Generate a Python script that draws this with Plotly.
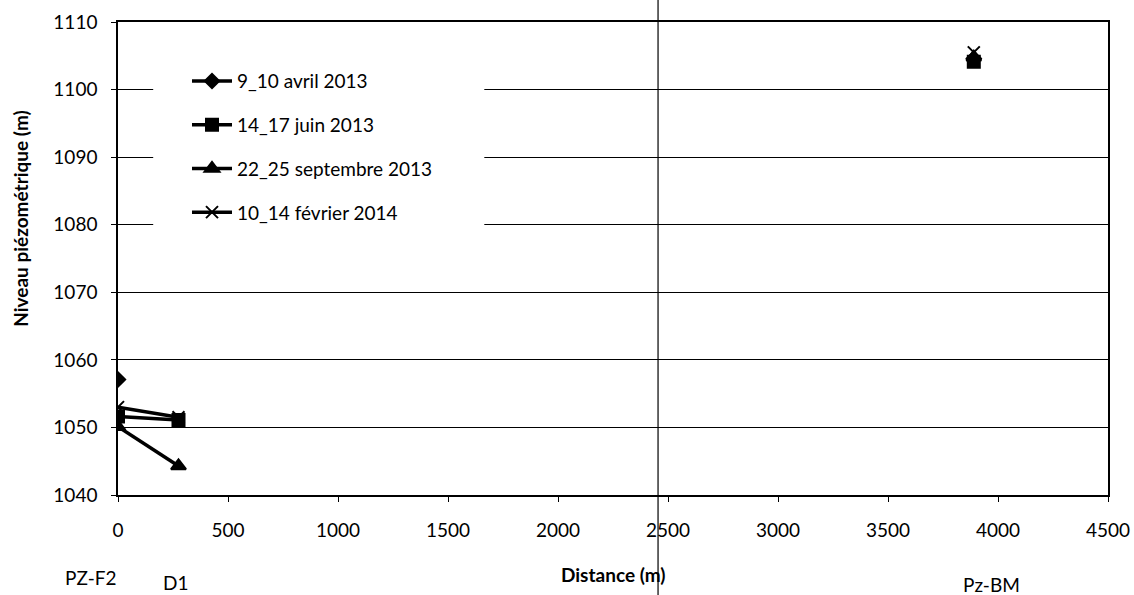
import plotly.graph_objects as go

# Piezometers along the section and their distance from PZ-F2 (m)
wells = ["PZ-F2", "D1", "", "Pz-BM"]
distance = [0, 275, 2000, 3890]

# Piezometric level (m) per campaign; None = not measured
campaigns = ["9_10 avril 2013", "14_17 juin 2013", "22_25 septembre 2013", "10_14 février 2014"]
niveau_avr13 = [1057.1, None, None, 1104.6]
niveau_jun13 = [1051.6, 1051.1, None, 1104.1]
niveau_sep13 = [1050.1, 1044.3, None, 1104.8]
niveau_fev14 = [1053.0, 1051.5, None, 1105.5]

series = [niveau_avr13, niveau_jun13, niveau_sep13, niveau_fev14]
symbols = ["diamond", "square", "triangle-up", "x-thin-open"]
sizes = [11, 12, 13, 12]

FONT = "Lato, 'Open Sans', sans-serif"

fig = go.Figure()
for i, (name, y) in enumerate(zip(campaigns, series)):
    fig.add_trace(go.Scatter(
        x=distance, y=y, name=name, mode="lines+markers",
        connectgaps=False, legendgroup=f"g{i}",
        line=dict(color="black", width=3.5),
        marker=dict(symbol=symbols[i], size=sizes[i], color="black",
                    line=dict(color="black", width=2)),
    ))

# white background behind the legend (hides the gridlines)
fig.add_shape(type="rect", xref="x", yref="y", x0=160, x1=1665, y0=1076, y1=1108,
              fillcolor="white", line=dict(width=0), layer="between")

# thin vertical line crossing the whole page
fig.add_shape(type="line", xref="paper", yref="paper", x0=0.5455, x1=0.5455, y0=-0.25, y1=1.1,
              line=dict(color="black", width=1.2))

# well names below the axis
for name, x, yoff, shift in [("PZ-F2", 0, -0.174, -27), ("D1", 275, -0.184, -3),
                             ("Pz-BM", 3890, -0.19, 18)]:
    fig.add_annotation(x=x, y=yoff, xref="x", yref="paper", text=name, showarrow=False,
                       xanchor="center", yanchor="middle", xshift=shift,
                       font=dict(family=FONT, size=19, color="black"))

# axis titles
fig.add_annotation(x=0.5, y=-0.169, xref="paper", yref="paper", text="<b>Distance (m)</b>",
                   showarrow=False, xanchor="center", yanchor="middle",
                   font=dict(family=FONT, size=19, color="black"))
fig.add_annotation(x=-0.098, y=0.586, xref="paper", yref="paper",
                   text="<b>Niveau piézométrique (m)</b>", textangle=-90,
                   showarrow=False, xanchor="center", yanchor="middle",
                   font=dict(family=FONT, size=19, color="black"))

fig.update_layout(
    width=1134, height=595,
    margin=dict(l=118, r=26, t=22, b=100, autoexpand=False),
    paper_bgcolor="white", plot_bgcolor="white",
    font=dict(family=FONT, size=19, color="black"),
    showlegend=True,
    legend=dict(x=0.0697, y=0.915, xanchor="left", yanchor="top",
                bgcolor="rgba(0,0,0,0)", borderwidth=0,
                font=dict(family=FONT, size=19, color="black"),
                traceorder="grouped", tracegroupgap=16, itemwidth=40),
    xaxis=dict(range=[0, 4500], dtick=500, tick0=0,
               showline=True, linecolor="black", linewidth=1.5, mirror=True,
               ticks="outside", ticklen=5, tickcolor="black",
               showgrid=False, zeroline=False, ticklabelstandoff=12,
               tickfont=dict(family=FONT, size=19, color="black")),
    yaxis=dict(range=[1040, 1110], dtick=10, tick0=1040,
               showline=True, linecolor="black", linewidth=1.5, mirror=True,
               ticks="outside", ticklen=5, tickcolor="black",
               showgrid=True, gridcolor="black", gridwidth=1, zeroline=False,
               ticklabelstandoff=10,
               tickfont=dict(family=FONT, size=19, color="black")),
)

fig.write_html("out.html")
